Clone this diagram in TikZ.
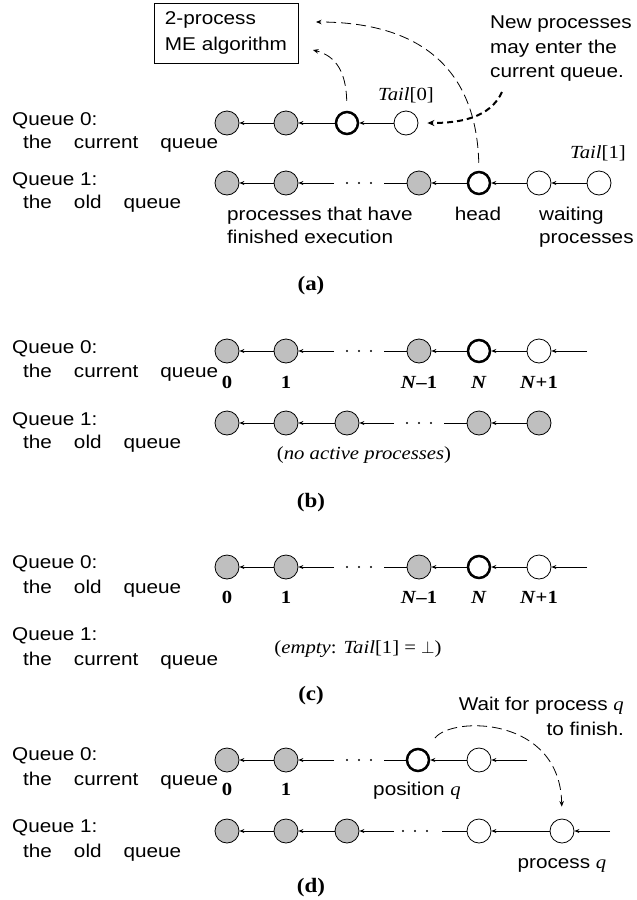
\documentclass[tikz,border=0pt]{standalone}
\usepackage{fontspec}
\setmainfont{Liberation Serif}[FakeStretch=1.12]
\newfontfamily\sansf{Liberation Sans}[FakeStretch=1.12]
\usetikzlibrary{arrows.meta}
\definecolor{nodegray}{gray}{0.75}
\newcommand\varq{{\normalfont\itshape q}}
\newcommand\wg{\hspace{22pt}}
\tikzset{
  proc/.style={circle, draw, line width=0.8pt, minimum size=24pt, inner sep=0pt},
  done/.style={proc, fill=nodegray},
  cur/.style={proc, line width=2.5pt, minimum size=22pt, fill=white},
  free/.style={proc, fill=white},
  link/.style={line width=0.8pt, -{Stealth[length=5pt,width=4pt]}},
  plain/.style={line width=0.8pt},
  sf/.style={font=\sansf\fontsize{18.5}{26}\selectfont, inner sep=0pt},
  rm/.style={font=\fontsize{18.5}{24}\selectfont, inner sep=0pt},
  panellabel/.style={font=\fontsize{20.5}{24}\selectfont\bfseries, inner sep=0pt},
  pdash/.style={line width=0.8pt, dash pattern=on 10pt off 5pt, -{Stealth[length=5.5pt,width=4.5pt]}},
  thickdash/.style={line width=2pt, dash pattern=on 6pt off 4pt, -{Stealth[length=7pt,width=6pt]}},
  dot/.style={fill=black}
}
\begin{document}
\begin{tikzpicture}[x=1pt, y=-1pt]
\useasboundingbox (0,0) rectangle (637,900);

% ---------------- (a) ----------------
\node[sf, anchor=base west] (qa0) at (12,125) {Queue 0:};
\node[sf, anchor=base west] (qa0b) at (23,148) {the\wg current\wg queue};
\node[sf, anchor=base west] (qa1) at (12,185) {Queue 1:};
\node[sf, anchor=base west] (qa1b) at (23,208) {the\wg old\wg queue};

\node[sf, draw, line width=0.8pt, minimum width=144pt, minimum height=60pt, align=left] (me) at (226,33) {2-process\\ME algorithm};

\node[sf, anchor=base west] (np1) at (490,28) {New processes};
\node[sf, anchor=base west] (np2) at (490,53) {may enter the};
\node[sf, anchor=base west] (np3) at (490,77) {current queue.};

\node[done] (a01) at (227,123) {};
\node[done] (a02) at (286,123) {};
\node[cur]  (a03) at (347,123) {};
\node[free] (a04) at (406,123) {};
\draw[link] (a02) -- (a01);
\draw[link] (a03) -- (a02);
\draw[link] (a04) -- (a03);
\node[rm, anchor=base] (t0) at (406,100) {\textit{Tail}[0]};

\node[done] (a11) at (227,183) {};
\node[done] (a12) at (286,183) {};
\coordinate (a1L) at (334,183);
\fill[dot] (347,183) circle (1.1pt) (359,183) circle (1.1pt) (371,183) circle (1.1pt);
\coordinate (a1R) at (384,183);
\node[done] (a13) at (419,183) {};
\node[cur]  (a14) at (479,183) {};
\node[free] (a15) at (539,183) {};
\node[free] (a16) at (599,183) {};
\draw[link] (a12) -- (a11);
\draw[link] (a1L) -- (a12);
\draw[plain] (a13) -- (a1R);
\draw[link] (a14) -- (a13);
\draw[link] (a15) -- (a14);
\draw[link] (a16) -- (a15);
\node[rm, anchor=base] (t1) at (598,158) {\textit{Tail}[1]};

\node[sf, anchor=base west] (fin1) at (227,220) {processes that have};
\node[sf, anchor=base west] (fin2) at (227,243) {finished execution};
\node[sf, anchor=base] (hd) at (478,220) {head};
\node[sf, anchor=base west] (w1) at (539,220) {waiting};
\node[sf, anchor=base west] (w2) at (539,243) {processes};

\coordinate (meA) at (313,50);
\coordinate (meB) at (316,22);
\coordinate (npS) at (502,92);
\draw[pdash, shorten <=10pt] (a03.north) .. controls (346,72) and (336,56) .. (meA);
\draw[pdash, shorten <=8pt] (a14.north) .. controls (476,60) and (410,22) .. (meB);
\draw[thickdash, shorten >=9pt] (npS) .. controls (490,118) and (460,123) .. (a04.east);

\node[panellabel, anchor=base] (la) at (311,290) {(a)};

% ---------------- (b) ----------------
\node[sf, anchor=base west] (qb0) at (12,353) {Queue 0:};
\node[sf, anchor=base west] (qb0b) at (23,377) {the\wg current\wg queue};
\node[sf, anchor=base west] (qb1) at (12,425) {Queue 1:};
\node[sf, anchor=base west] (qb1b) at (23,448) {the\wg old\wg queue};

\node[done] (b01) at (227,351) {};
\node[done] (b02) at (286,351) {};
\coordinate (b0L) at (334,351);
\fill[dot] (347,351) circle (1.1pt) (359,351) circle (1.1pt) (371,351) circle (1.1pt);
\coordinate (b0R) at (384,351);
\node[done] (b03) at (419,351) {};
\node[cur]  (b04) at (479,351) {};
\node[free] (b05) at (539,351) {};
\coordinate (b0in) at (587,351);
\draw[link] (b02) -- (b01);
\draw[link] (b0L) -- (b02);
\draw[plain] (b03) -- (b0R);
\draw[link] (b04) -- (b03);
\draw[link] (b05) -- (b04);
\draw[link] (b0in) -- (b05);
\node[rm, anchor=base] (bl0) at (227,388) {\textbf{0}};
\node[rm, anchor=base] (bl1) at (286,388) {\textbf{1}};
\node[rm, anchor=base] (bl2) at (419,388) {\textbf{\textit{N}–1}};
\node[rm, anchor=base] (bl3) at (479,388) {\textbf{\textit{N}}};
\node[rm, anchor=base] (bl4) at (539,388) {\textbf{\textit{N}+1}};

\node[done] (b11) at (227,423) {};
\node[done] (b12) at (286,423) {};
\node[done] (b13) at (347,423) {};
\coordinate (b1L) at (394,423);
\fill[dot] (407,423) circle (1.1pt) (419,423) circle (1.1pt) (431,423) circle (1.1pt);
\coordinate (b1R) at (444,423);
\node[done] (b14) at (479,423) {};
\node[done] (b15) at (539,423) {};
\draw[link] (b12) -- (b11);
\draw[link] (b13) -- (b12);
\draw[link] (b1L) -- (b13);
\draw[plain] (b14) -- (b1R);
\draw[link] (b15) -- (b14);
\node[rm, anchor=base] (nap) at (364,459) {(\textit{no active processes})};

\node[panellabel, anchor=base] (lb) at (311,507) {(b)};

% ---------------- (c) ----------------
\node[sf, anchor=base west] (qc0) at (12,568) {Queue 0:};
\node[sf, anchor=base west] (qc0b) at (23,593) {the\wg old\wg queue};
\node[sf, anchor=base west] (qc1) at (12,640) {Queue 1:};
\node[sf, anchor=base west] (qc1b) at (23,665) {the\wg current\wg queue};

\node[done] (c01) at (227,567) {};
\node[done] (c02) at (286,567) {};
\coordinate (c0L) at (334,567);
\fill[dot] (347,567) circle (1.1pt) (359,567) circle (1.1pt) (371,567) circle (1.1pt);
\coordinate (c0R) at (384,567);
\node[done] (c03) at (419,567) {};
\node[cur]  (c04) at (479,567) {};
\node[free] (c05) at (539,567) {};
\coordinate (c0in) at (587,567);
\draw[link] (c02) -- (c01);
\draw[link] (c0L) -- (c02);
\draw[plain] (c03) -- (c0R);
\draw[link] (c04) -- (c03);
\draw[link] (c05) -- (c04);
\draw[link] (c0in) -- (c05);
\node[rm, anchor=base] (cl0) at (227,603) {\textbf{0}};
\node[rm, anchor=base] (cl1) at (286,603) {\textbf{1}};
\node[rm, anchor=base] (cl2) at (419,603) {\textbf{\textit{N}–1}};
\node[rm, anchor=base] (cl3) at (479,603) {\textbf{\textit{N}}};
\node[rm, anchor=base] (cl4) at (539,603) {\textbf{\textit{N}+1}};

\node[rm, anchor=base] (emp) at (358,653) {(\textit{empty}: \textit{Tail}[1] = $\perp$)};

\node[panellabel, anchor=base] (lc) at (311,700) {(c)};

% ---------------- (d) ----------------
\node[sf, anchor=base west] (qd0) at (12,760) {Queue 0:};
\node[sf, anchor=base west] (qd0b) at (23,785) {the\wg current\wg queue};
\node[sf, anchor=base west] (qd1) at (12,832) {Queue 1:};
\node[sf, anchor=base west] (qd1b) at (23,857) {the\wg old\wg queue};

\node[done] (d01) at (227,760) {};
\node[done] (d02) at (286,760) {};
\coordinate (d0L) at (334,760);
\fill[dot] (347,760) circle (1.1pt) (359,760) circle (1.1pt) (371,760) circle (1.1pt);
\coordinate (d0R) at (384,760);
\node[cur]  (d03) at (418,760) {};
\node[free] (d04) at (479,760) {};
\coordinate (d0in) at (527,760);
\draw[link] (d02) -- (d01);
\draw[link] (d0L) -- (d02);
\draw[plain] (d03) -- (d0R);
\draw[link] (d04) -- (d03);
\draw[link] (d0in) -- (d04);
\node[rm, anchor=base] (dl0) at (227,795) {\textbf{0}};
\node[rm, anchor=base] (dl1) at (286,795) {\textbf{1}};
\node[sf, anchor=base] (posq) at (417,795) {position \varq};

\node[done] (d11) at (227,831) {};
\node[done] (d12) at (286,831) {};
\node[done] (d13) at (347,831) {};
\coordinate (d1L) at (394,831);
\fill[dot] (403,831) circle (1.1pt) (415,831) circle (1.1pt) (427,831) circle (1.1pt);
\coordinate (d1R) at (442,831);
\node[free] (d14) at (479,831) {};
\node[free] (d15) at (562,831) {};
\coordinate (d1in) at (610,831);
\draw[link] (d12) -- (d11);
\draw[link] (d13) -- (d12);
\draw[link] (d1L) -- (d13);
\draw[plain] (d14) -- (d1R);
\draw[link] (d15) -- (d14);
\draw[link] (d1in) -- (d15);
\node[sf, anchor=base] (procq) at (562,868) {process \varq};

\node[sf, anchor=base east] (wait1) at (624,710) {Wait for process \varq};
\node[sf, anchor=base east] (wait2) at (624,735) {to finish.};
\coordinate (wS) at (435,738);
\draw[pdash, shorten >=12pt] (wS) .. controls (452,716) and (560,716) .. (d15.north);

\node[panellabel, anchor=base] (ld) at (311,892) {(d)};
\end{tikzpicture}
\end{document}
